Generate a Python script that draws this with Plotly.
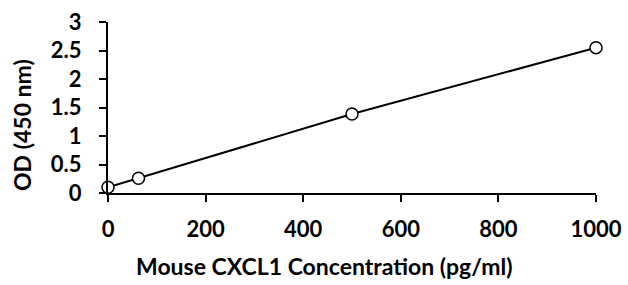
import plotly.graph_objects as go

conc = [0, 62.5, 500, 1000]
od = [0.1, 0.26, 1.385, 2.55]
x_ticks = [0, 200, 400, 600, 800, 1000]
y_ticks = [0, 0.5, 1, 1.5, 2, 2.5, 3]
y_tick_text = ["0", "0.5", "1", "1.5", "2", "2.5", "3"]
x_title = "Mouse CXCL1 Concentration (pg/ml)"
y_title = "OD (450 nm)"

font_family = "Lato"

fig = go.Figure(go.Scatter(
    x=conc, y=od, mode="lines+markers",
    line=dict(color="black", width=2),
    marker=dict(symbol="circle", size=12, color="white",
                line=dict(color="black", width=1.5)),
    cliponaxis=False,
))

W, H = 628, 285
L, R, T, B = 108, 32, 22, 92
pw, ph = W - L - R, H - T - B

fig.update_layout(
    width=W, height=H,
    margin=dict(l=L, r=R, t=T, b=B),
    paper_bgcolor="white", plot_bgcolor="white",
    showlegend=False,
    font=dict(family=font_family, color="black", size=22),
)
fig.update_xaxes(
    range=[0, 1000], tickvals=x_ticks, ticktext=[f"<b>{v}</b>" for v in x_ticks],
    showgrid=False, zeroline=False, showline=True, linecolor="black", linewidth=2,
    ticks="outside", ticklen=7, tickwidth=2, tickcolor="black",
    tickfont=dict(family=font_family, size=22), ticklabelstandoff=9,
    automargin=False,
)
fig.update_yaxes(
    range=[0, 3], tickvals=y_ticks, ticktext=[f"<b>{t}</b>" for t in y_tick_text],
    showgrid=False, zeroline=False, showline=True, linecolor="black", linewidth=2,
    ticks="outside", ticklen=7, tickwidth=2, tickcolor="black",
    tickfont=dict(family=font_family, size=22), ticklabelstandoff=13,
    automargin=False,
)
fig.add_annotation(
    text=f"<b>{x_title}</b>", xref="paper", yref="paper",
    x=(324 - L) / pw, y=(T + ph - 266) / ph, showarrow=False,
    xanchor="center", yanchor="middle", font=dict(family=font_family, size=23),
)
fig.add_annotation(
    text=f"<b>{y_title}</b>", xref="paper", yref="paper",
    x=(22 - L) / pw, y=(T + ph - 125) / ph, showarrow=False, textangle=-90,
    xanchor="center", yanchor="middle", font=dict(family=font_family, size=23),
)

fig.write_html("out.html", config={"displayModeBar": False},
               post_script="document.body.style.margin='0';document.body.style.padding='0';")
